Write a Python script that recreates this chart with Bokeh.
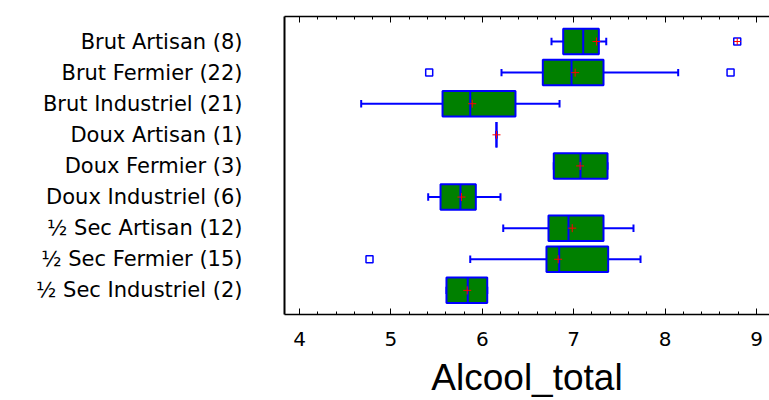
from bokeh.plotting import figure
from bokeh.models import (Range1d, FixedTicker, LinearAxis, ColumnDataSource,
                          CustomLabelingPolicy)
from bokeh.embed import file_html
from bokeh.resources import INLINE

# ---- data ----
categories = [
    "Brut Artisan (8)",
    "Brut Fermier (22)",
    "Brut Industriel (21)",
    "Doux Artisan (1)",
    "Doux Fermier (3)",
    "Doux Industriel (6)",
    "½ Sec Artisan (12)",
    "½ Sec Fermier (15)",
    "½ Sec Industriel (2)",
]
positions = [1, 2, 3, 4, 5, 6, 7, 8, 9]
whisker_lo = [6.757, 6.210, 4.675, 6.155, 6.782, 5.408, 6.229, 5.868, 5.608]
q1 = [6.885, 6.662, 5.565, 6.155, 6.782, 5.543, 6.724, 6.702, 5.608]
median = [7.104, 6.976, 5.868, 6.155, 7.074, 5.761, 6.943, 6.841, 5.841]
q3 = [7.275, 7.326, 6.363, 6.155, 7.370, 5.929, 7.326, 7.377, 6.054]
whisker_hi = [7.356, 8.143, 6.845, 6.155, 7.370, 6.199, 7.654, 7.731, 6.054]
means = [7.249, 7.016, 5.890, 6.155, 7.070, 5.772, 6.984, 6.830, 5.835]

outlier_pos = [1, 2, 2, 8]
outlier_val = [8.789, 5.419, 8.716, 4.766]
far_outlier_pos = [1]
far_outlier_val = [8.789]

x_ticks = [4, 5, 6, 7, 8, 9]
x_minor_ticks = [3.8, 4.2, 4.4, 4.6, 4.8, 5.2, 5.4, 5.6, 5.8, 6.2, 6.4, 6.6, 6.8,
                 7.2, 7.4, 7.6, 7.8, 8.2, 8.4, 8.6, 8.8, 9.2]
x_title = "Alcool_total"

BOX_H = 0.82
CAP_H = 0.12
BLUE = "#0000FF"
GREEN = "#008000"

src = ColumnDataSource(dict(
    y=positions, lo=whisker_lo, q1=q1, med=median, q3=q3, hi=whisker_hi, mean=means,
    y0=[v - BOX_H / 2 for v in positions], y1=[v + BOX_H / 2 for v in positions],
    c0=[v - CAP_H for v in positions], c1=[v + CAP_H for v in positions],
))

p = figure(width=769, height=400,
           x_range=Range1d(3.836, 9.142), y_range=Range1d(9.776, 0.196),
           output_backend="svg", toolbar_location=None,
           min_border_left=284, min_border_right=0, min_border_top=16, min_border_bottom=86)
p.outline_line_color = None
p.grid.visible = False

# whiskers
p.segment(x0="lo", y0="y", x1="hi", y1="y", source=src, line_color=BLUE, line_width=2)
p.segment(x0="lo", y0="c0", x1="lo", y1="c1", source=src, line_color=BLUE, line_width=2)
p.segment(x0="hi", y0="c0", x1="hi", y1="c1", source=src, line_color=BLUE, line_width=2)
# boxes
p.hbar(y="y", left="q1", right="q3", height=BOX_H, source=src,
       fill_color=GREEN, line_color=BLUE, line_width=2)
# medians
p.segment(x0="med", y0="y0", x1="med", y1="y1", source=src, line_color=BLUE, line_width=2)
# means
p.scatter(x="mean", y="y", source=src, marker="cross", size=8, line_color="red", line_width=1)
# outliers
p.scatter(x=outlier_val, y=outlier_pos, marker="square", size=7, fill_color=None,
          line_color=BLUE, line_width=1.5)
p.scatter(x=far_outlier_val, y=far_outlier_pos, marker="cross", size=7,
          line_color="red", line_width=1)

# left axis with category labels
yax = p.yaxis[0]
yax.ticker = FixedTicker(ticks=positions)
yax.major_label_overrides = {k: c for k, c in zip(positions, categories)}
yax.major_tick_in = 0
yax.major_tick_out = 0
yax.minor_tick_in = 0
yax.minor_tick_out = 0
yax.axis_line_color = "black"
yax.axis_line_width = 2
yax.major_label_standoff = 42
yax.major_label_text_font = "DejaVu Sans"
yax.major_label_text_font_size = "21px"
yax.major_label_text_color = "black"

# bottom axis
xax = p.xaxis[0]
xax.ticker = FixedTicker(ticks=x_ticks, minor_ticks=x_minor_ticks)
xax.major_tick_in = 6
xax.major_tick_out = 0
xax.minor_tick_in = 3
xax.minor_tick_out = 0
xax.axis_line_color = "black"
xax.axis_line_width = 1.5
xax.major_tick_line_color = "black"
xax.minor_tick_line_color = "black"
xax.major_label_standoff = 17
xax.major_label_text_font = "DejaVu Sans"
xax.major_label_text_font_size = "20px"
xax.major_label_text_color = "black"
xax.axis_label = x_title
xax.axis_label_text_font = "Liberation Sans"
xax.axis_label_text_font_size = "37px"
xax.axis_label_text_font_style = "normal"
xax.axis_label_text_color = "black"
xax.axis_label_text_line_height = 1.0
xax.axis_label_standoff = 8

# top axis (ticks only)
top = LinearAxis(ticker=FixedTicker(ticks=x_ticks, minor_ticks=x_minor_ticks))
top.major_tick_in = 6
top.major_tick_out = 0
top.minor_tick_in = 3
top.minor_tick_out = 0
top.axis_line_color = "black"
top.axis_line_width = 1.5
top.major_label_text_font_size = "1px"
top.major_label_standoff = 0
top.major_label_policy = CustomLabelingPolicy(code="return []")
p.add_layout(top, "above")

open("out.html", "w").write(file_html(p, INLINE))
